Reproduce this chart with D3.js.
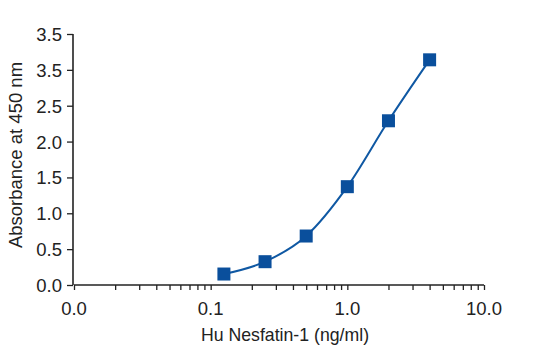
<!DOCTYPE html>
<html><head><meta charset="utf-8">
<script src="https://cdn.jsdelivr.net/npm/d3@7"></script>
<style>body{margin:0;background:#fff}svg{display:block}</style>
</head><body>
<svg id="c" width="550" height="357"></svg>
<script>
const concentrations = [0.125, 0.25, 0.5, 1, 2, 4];
const absorbance = [0.153, 0.325, 0.683, 1.371, 2.29, 3.14];
const xTickValues = [0.01, 0.1, 1, 10];
const xTickLabels = ["0.0", "0.1", "1.0", "10.0"];
const yTickValues = [0, 0.5, 1, 1.5, 2, 2.5, 3, 3.5];
const yTickLabels = ["0.0", "0.5", "1.0", "1.5", "2.0", "2.5", "3.5", "3.5"];
const xTitle = "Hu Nesfatin-1 (ng/ml)";
const yTitle = "Absorbance at 450 nm";

const svg = d3.select("#c");
const font = "'Liberation Sans',Arial,sans-serif";
const x = d3.scaleLog().domain([0.01, 10]).range([74, 484]);
const y = d3.scaleLinear().domain([0, 3.5]).range([285, 34]);
const axisColor = "#222";

// x axis
const minor = [];
for (let d = 0.01; d < 10; d *= 10) for (let k = 1; k <= 10; k++) minor.push(+(d * k).toPrecision(3));
const gx = svg.append("g").attr("transform", "translate(0,285)");
gx.call(d3.axisBottom(x).tickValues(Array.from(new Set(minor))).tickSize(5).tickFormat(""));
gx.select(".domain").attr("stroke", axisColor).attr("stroke-width", 1.6).attr("d", `M${x(0.01)},0H${x(10)}`);
gx.selectAll(".tick line").attr("stroke", axisColor).attr("stroke-width", 1.3);
gx.selectAll(".tick text").remove();
svg.append("g").selectAll("text").data(xTickValues).join("text")
  .attr("x", d => x(d)).attr("y", 315)
  .attr("text-anchor", "middle").attr("font-family", font).attr("font-size", 18.5).attr("fill", axisColor)
  .text((d, i) => xTickLabels[i]);

// y axis
const gy = svg.append("g").attr("transform", "translate(73,0)");
gy.call(d3.axisLeft(y).tickValues(yTickValues).tickSize(6).tickFormat((d, i) => yTickLabels[i]));
gy.select(".domain").attr("stroke", axisColor).attr("stroke-width", 1.6).attr("d", `M0,${y(3.5)}V${y(0)}`);
gy.selectAll(".tick line").attr("stroke", axisColor).attr("stroke-width", 1.3);
gy.selectAll(".tick text").attr("font-family", font).attr("font-size", 18.5).attr("fill", axisColor).attr("x", -11).attr("dy", "0.35em");

// titles
svg.append("text").attr("x", 285).attr("y", 341).attr("text-anchor", "middle")
  .attr("font-family", font).attr("font-size", 17.7).attr("fill", axisColor).text(xTitle);
svg.append("text").attr("transform", "translate(21.5,155) rotate(-90)").attr("text-anchor", "middle")
  .attr("font-family", font).attr("font-size", 18.5).attr("fill", axisColor).text(yTitle);

// curve
const pts = concentrations.map((c, i) => [x(c), y(absorbance[i])]);
svg.append("path").attr("d", d3.line().curve(d3.curveMonotoneX)(pts))
  .attr("fill", "none").attr("stroke", "#0f58a3").attr("stroke-width", 2);
svg.append("g").selectAll("rect").data(pts).join("rect")
  .attr("x", d => d[0] - 6.5).attr("y", d => d[1] - 6.5).attr("width", 13).attr("height", 13)
  .attr("fill", "#0a4f9c");
</script>
</body></html>
